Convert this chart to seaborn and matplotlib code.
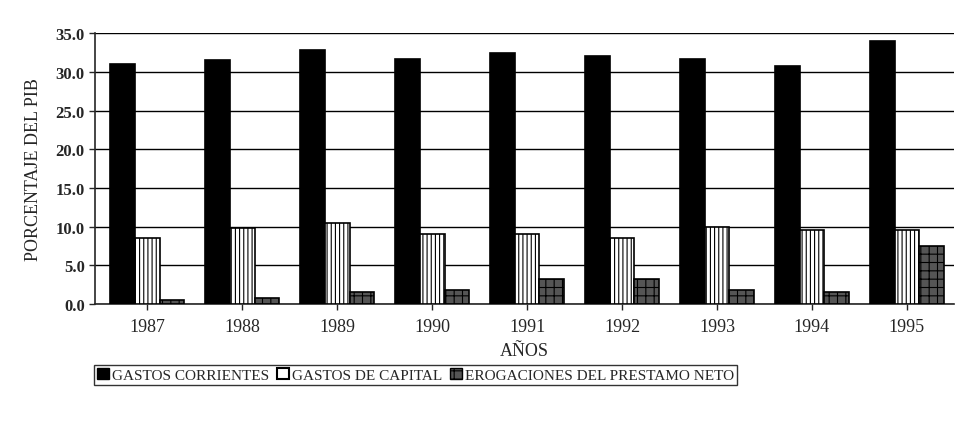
import numpy as np
import pandas as pd
import matplotlib
matplotlib.use("Agg")
import matplotlib.pyplot as plt
import seaborn as sns
from matplotlib.patches import Patch

years = ["1987", "1988", "1989", "1990", "1991", "1992", "1993", "1994", "1995"]
gastos_corrientes = [31.0, 31.5, 32.8, 31.6, 32.4, 32.0, 31.7, 30.8, 34.0]
gastos_capital = [8.5, 9.8, 10.5, 9.0, 9.0, 8.5, 10.0, 9.5, 9.5]
erogaciones = [0.5, 0.8, 1.5, 1.8, 3.2, 3.2, 1.8, 1.5, 7.5]
series_names = ["GASTOS CORRIENTES", "GASTOS DE CAPITAL", "EROGACIONES DEL PRESTAMO NETO"]

df = pd.DataFrame({
    "year": years * 3,
    "serie": np.repeat(series_names, len(years)),
    "valor": gastos_corrientes + gastos_capital + erogaciones,
})

sns.set_style("white")
plt.rcParams["font.family"] = ["Liberation Serif", "DejaVu Serif"]
plt.rcParams["hatch.color"] = "black"
plt.rcParams["hatch.linewidth"] = 0.8

fig = plt.figure(figsize=(9.62, 4.27), dpi=100)
ax = fig.add_axes([0.099, 0.286, 0.893, 0.634])

palette = {series_names[0]: "black", series_names[1]: "white", series_names[2]: "#555555"}
sns.barplot(data=df, x="year", y="valor", hue="serie", palette=palette,
            width=0.78, edgecolor="black", linewidth=1.2, ax=ax, legend=False, zorder=3)

hatches = [None, "||||", "++"]
for cont, h in zip(ax.containers, hatches):
    for bar in cont:
        if h:
            bar.set_hatch(h)

ax.set_ylim(0, 35)
ax.set_xlim(-0.55, 8.5)
ax.set_yticks(np.arange(0, 35.1, 5))
ax.set_yticklabels([f"{v:.1f}" for v in np.arange(0, 35.1, 5)], fontsize=12, fontweight="bold")
ax.tick_params(axis="x", labelsize=13, pad=6)
ax.tick_params(axis="y", length=4, direction="out", left=True, width=1)
ax.tick_params(axis="x", length=4, direction="out", bottom=True, width=1)
ax.yaxis.grid(True, color="black", linewidth=1.0, zorder=0)
ax.set_axisbelow(True)
for side in ["top", "right"]:
    ax.spines[side].set_visible(False)
ax.spines["left"].set_linewidth(1.2)
ax.spines["bottom"].set_linewidth(1.2)

ax.set_xlabel("AÑOS", fontsize=13, labelpad=5)
ax.set_ylabel("PORCENTAJE DEL PIB", fontsize=13, labelpad=10)

handles = [Patch(facecolor="black", edgecolor="black"),
           Patch(facecolor="white", edgecolor="black", linewidth=1.5),
           Patch(facecolor="#555555", edgecolor="black", hatch="++")]
leg = fig.legend(handles, series_names, loc="center", bbox_to_anchor=(0.432, 0.12),
                 ncol=3, frameon=True, fancybox=False, edgecolor="black",
                 fontsize=11, handlelength=0.8, handleheight=0.8, handletextpad=0.2,
                 columnspacing=0.5, borderpad=0.2, borderaxespad=0)
leg.get_frame().set_linewidth(1.0)

fig.savefig("out.png", dpi=100)
